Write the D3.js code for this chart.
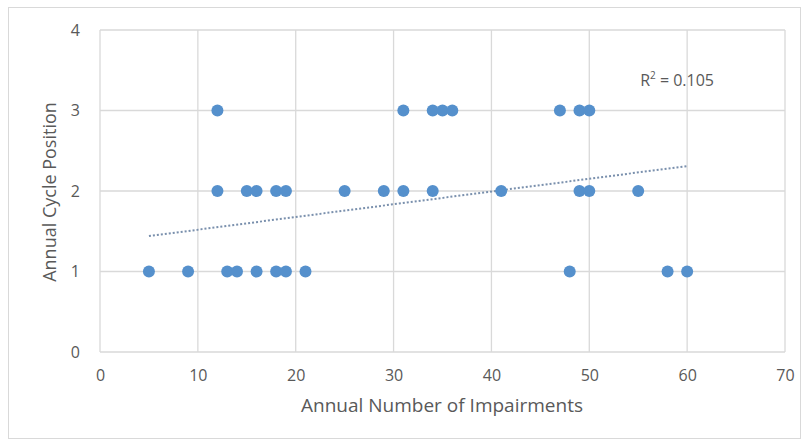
<!DOCTYPE html>
<html>
<head>
<meta charset="utf-8">
<script src="https://cdn.jsdelivr.net/npm/d3@7"></script>
<style>
  body { margin: 0; background: #fff; }
  text { font-family: "Open Sans", sans-serif; fill: #595959; }
</style>
</head>
<body>
<div class="chart"></div>
<script>
// data
var impairments = [12, 31, 34, 35, 36, 47, 49, 50,
                   12, 15, 16, 18, 19, 25, 29, 31, 34, 41, 49, 50, 55,
                   5, 9, 13, 14, 16, 18, 19, 21, 48, 58, 60];
var cyclePos = [3, 3, 3, 3, 3, 3, 3, 3,
                2, 2, 2, 2, 2, 2, 2, 2, 2, 2, 2, 2, 2,
                1, 1, 1, 1, 1, 1, 1, 1, 1, 1, 1];
var trendX = [5, 60];
var trendY = [1.44, 2.31];
var xTicks = [0, 10, 20, 30, 40, 50, 60, 70];
var yTicks = [0, 1, 2, 3, 4];

var svgWidth = 807;
var svgHeight = 441;
var margin = { top: 30, right: 22, bottom: 89, left: 100 };
var width = svgWidth - margin.left - margin.right;
var height = svgHeight - margin.top - margin.bottom;

var svg = d3.select(".chart")
  .append("svg")
  .attr("width", svgWidth)
  .attr("height", svgHeight);

// outer chart frame
svg.append("rect")
  .attr("x", 8.5).attr("y", 7.5)
  .attr("width", 792).attr("height", 431)
  .attr("fill", "none")
  .attr("stroke", "#d9d9d9");

var chartGroup = svg.append("g")
  .attr("transform", `translate(${margin.left}, ${margin.top})`);

var x = d3.scaleLinear().domain([0, 70]).range([0, width]);
var y = d3.scaleLinear().domain([0, 4]).range([height, 0]);

// gridlines
chartGroup.append("g")
  .selectAll("line.v")
  .data(xTicks)
  .enter().append("line")
  .attr("x1", d => x(d)).attr("x2", d => x(d))
  .attr("y1", 0).attr("y2", height)
  .attr("stroke", "#d9d9d9").attr("stroke-width", 1.3);

chartGroup.append("g")
  .selectAll("line.h")
  .data(yTicks)
  .enter().append("line")
  .attr("x1", 0).attr("x2", width)
  .attr("y1", d => y(d)).attr("y2", d => y(d))
  .attr("stroke", "#d9d9d9").attr("stroke-width", 1.3);

// axes (labels only)
var bottomAxis = d3.axisBottom(x).tickValues(xTicks).tickFormat(d3.format("d"))
  .tickSize(0).tickPadding(18);
var leftAxis = d3.axisLeft(y).tickValues(yTicks).tickFormat(d3.format("d"))
  .tickSize(0).tickPadding(20);

chartGroup.append("g")
  .attr("transform", `translate(0, ${height})`)
  .call(bottomAxis)
  .call(g => g.select(".domain").remove())
  .selectAll("text").style("font-size", "16px").attr("fill", "#595959");

chartGroup.append("g")
  .call(leftAxis)
  .call(g => g.select(".domain").remove())
  .selectAll("text").style("font-size", "16px").attr("fill", "#595959");

// trendline
var trend = trendX.map((d, i) => [d, trendY[i]]);
chartGroup.append("path")
  .datum(trend)
  .attr("d", d3.line().x(d => x(d[0])).y(d => y(d[1])))
  .attr("fill", "none")
  .attr("stroke", "#7a90ad")
  .attr("stroke-width", 2)
  .attr("stroke-dasharray", "2,2");

// points
chartGroup.selectAll("circle")
  .data(impairments)
  .enter()
  .append("circle")
  .attr("cx", d => x(d))
  .attr("cy", (d, i) => y(cyclePos[i]))
  .attr("r", 6)
  .attr("fill", "#5590cc");

chartGroup.append("text")
  .attr("x", x(55.2))
  .attr("y", y(3.3))
  .style("font-size", "16px")
  .html("R<tspan dy='-7' style='font-size:10px'>2</tspan><tspan dy='7'> = 0.105</tspan>");

// axis titles
chartGroup.append("text")
  .attr("x", width / 2 - 0.5)
  .attr("y", height + 60)
  .attr("text-anchor", "middle")
  .style("font-size", "19px")
  .text("Annual Number of Impairments");

chartGroup.append("text")
  .attr("transform", "rotate(-90)")
  .attr("x", -height / 2 - 1)
  .attr("y", -44)
  .attr("text-anchor", "middle")
  .style("font-size", "18px")
  .text("Annual Cycle Position");
</script>
</body>
</html>
